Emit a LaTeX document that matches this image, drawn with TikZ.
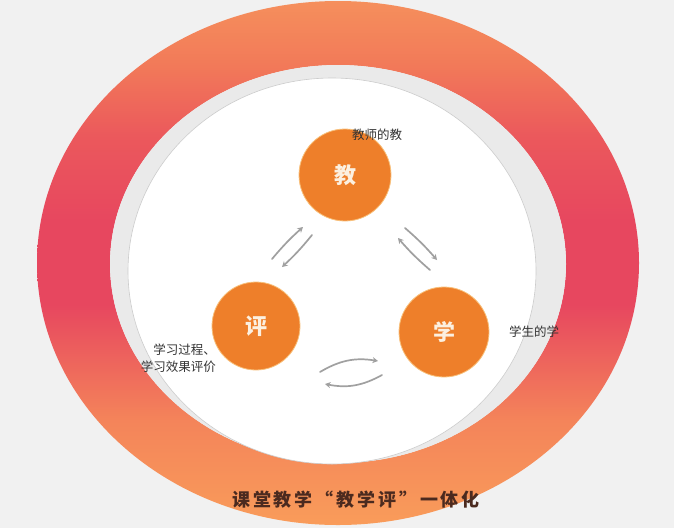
\documentclass[tikz,border=0pt]{standalone}
\usepackage{fontspec}
\newfontfamily\cjk{Noto Sans CJK SC}
\usetikzlibrary{arrows.meta}
\definecolor{bgc}{HTML}{F1F1F1}
\definecolor{rb}{HTML}{F99C5A}
\definecolor{rtwo}{HTML}{F4845A}
\definecolor{rthree}{HTML}{E7475F}
\definecolor{rfour}{HTML}{EB585C}
\definecolor{rfive}{HTML}{F27A59}
\definecolor{rt}{HTML}{F58F5C}
\definecolor{bandc}{HTML}{EAEAEA}
\definecolor{dotc}{HTML}{EE7F2A}
\definecolor{dotedge}{HTML}{F8C07A}
\definecolor{dottext}{HTML}{FCF0E0}
\definecolor{labc}{HTML}{333333}
\definecolor{arrc}{HTML}{A0A0A0}
\definecolor{titlec}{HTML}{4B2A1F}
\pgfdeclareverticalshading{ringshade}{100bp}{color(0bp)=(rb);color(25bp)=(rb);color(35bp)=(rtwo);color(46bp)=(rthree);color(54bp)=(rthree);color(62bp)=(rfour);color(69bp)=(rfive);color(75bp)=(rt);color(100bp)=(rt)}
\tikzset{
  dotnode/.style={circle,fill=dotc,draw=dotedge,line width=0.8pt,minimum size=#1,inner sep=0pt,
    text=dottext,font=\cjk\bfseries\fontsize{22}{24}\selectfont},
  labnode/.style={text=labc,font=\cjk\fontsize{12.5}{16}\selectfont,inner sep=0pt},
  flowarrow/.style={draw=arrc,line width=1.7pt,-{Stealth[length=5.5pt,width=6pt]},line cap=round}
}
\begin{document}
\begin{tikzpicture}[x=1pt,y=-1pt]
\useasboundingbox (0,0) rectangle (674,528);
\fill[bgc] (0,0) rectangle (674,528);
% ring
\shade[shading=ringshade,even odd rule]
  (338,263) ellipse [x radius=301pt,y radius=262pt]
  (338,264) ellipse [x radius=228pt,y radius=199pt];
% gray band and white disc
\fill[bandc] (338,264) ellipse [x radius=228pt,y radius=199pt];
\fill[white,draw=gray!40,line width=0.6pt] (332,271) ellipse [x radius=204pt,y radius=193pt];
% circles
\node[dotnode=92pt] (jiao) at (345,175) {教};
\node[dotnode=88pt] (ping) at (256,326) {评};
\node[dotnode=90pt] (xue) at (444,332) {学};
% labels
\node[labnode] (ljiao) at (377,135) {教师的教};
\node[labnode] (lxue) at (534,332) {学生的学};
\node[labnode,align=right,anchor=east,font=\cjk\fontsize{12.5}{17}\selectfont] (lping) at (216,358) {学习过程、\\学习效果评价};
% arrow end points
\coordinate (a1s) at (272,259); \coordinate (a1e) at (303,227);
\coordinate (a2s) at (312,235); \coordinate (a2e) at (282,267);
\coordinate (b1s) at (405,228); \coordinate (b1e) at (437,260);
\coordinate (b2s) at (430,270); \coordinate (b2e) at (398,238);
\coordinate (c1s) at (320,372); \coordinate (c1e) at (378,361);
\coordinate (c2s) at (382,375); \coordinate (c2e) at (325,384);
\draw[flowarrow] (a1s) to[bend left=4] (a1e);
\draw[flowarrow] (a2s) to[bend left=4] (a2e);
\draw[flowarrow] (b1s) to[bend left=4] (b1e);
\draw[flowarrow] (b2s) to[bend left=4] (b2e);
\draw[flowarrow] (c1s) to[bend left=20] (c1e);
\draw[flowarrow] (c2s) to[bend left=20] (c2e);
% title
\node[text=titlec,font=\cjk\bfseries\fontsize{18}{20}\selectfont\addfontfeature{LetterSpace=16},inner sep=0pt] (title) at (356,500) {课堂教学“教学评”一体化};
\end{tikzpicture}
\end{document}
